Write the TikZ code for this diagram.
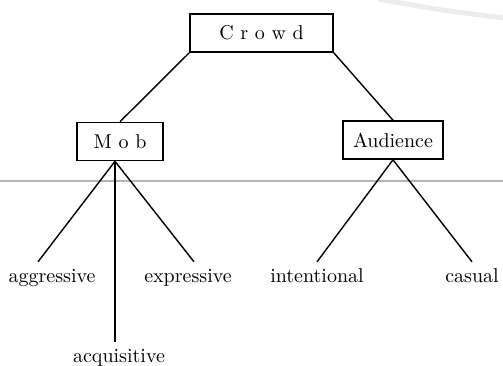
\documentclass[tikz,border=0pt]{standalone}
\definecolor{scangray}{HTML}{B4B4B4}
\tikzset{
  catbox/.style={draw, line width=0.8pt, inner sep=0pt, minimum height=19pt},
  kind/.style={inner sep=3pt, text height=6.9pt, text depth=1.9pt},
  branch/.style={line width=0.7pt},
}
\begin{document}
\begin{tikzpicture}[x=0.5pt,y=-0.5pt]
\useasboundingbox (0,0) rectangle (503,365);
% Scan marks
\draw[scangray, line width=1.2pt] (0,181) -- (503,181);
\draw[gray!15, line width=2.5pt] (378,-1) .. controls (440,10) .. (505,18);
% Top boxes
\node[catbox, minimum width=71.5pt] (crowd) at (261.5,33) {C r o w d};
\node[catbox, minimum width=43pt] (mob) at (120,141.5) {M o b};
\node[catbox, minimum width=50pt] (aud) at (393,140) {Audience};
\draw[branch] (crowd.south west) -- (mob.north);
\draw[branch] (crowd.south east) -- (aud.north);
% Kinds of crowd
\foreach \name/\x/\y/\txt in {agg/52/277/aggressive, expr/188/277/expressive, int/317/277/intentional, cas/472/277/casual, acq/119/357/acquisitive} {
  \node[kind] (\name) at (\x,\y) {\txt};
}
\coordinate (mobfoot) at ([xshift=-2.5pt]mob.south);
\draw[branch] (mobfoot) -- ([xshift=-7pt]agg.north);
\draw[branch] (mobfoot) -- ([xshift=3pt]expr.north);
\draw[branch] (mobfoot) -- (mobfoot |- acq.north);
\draw[branch] (aud.south) -- (int.north);
\draw[branch] (aud.south) -- (cas.north);
\end{tikzpicture}
\end{document}
